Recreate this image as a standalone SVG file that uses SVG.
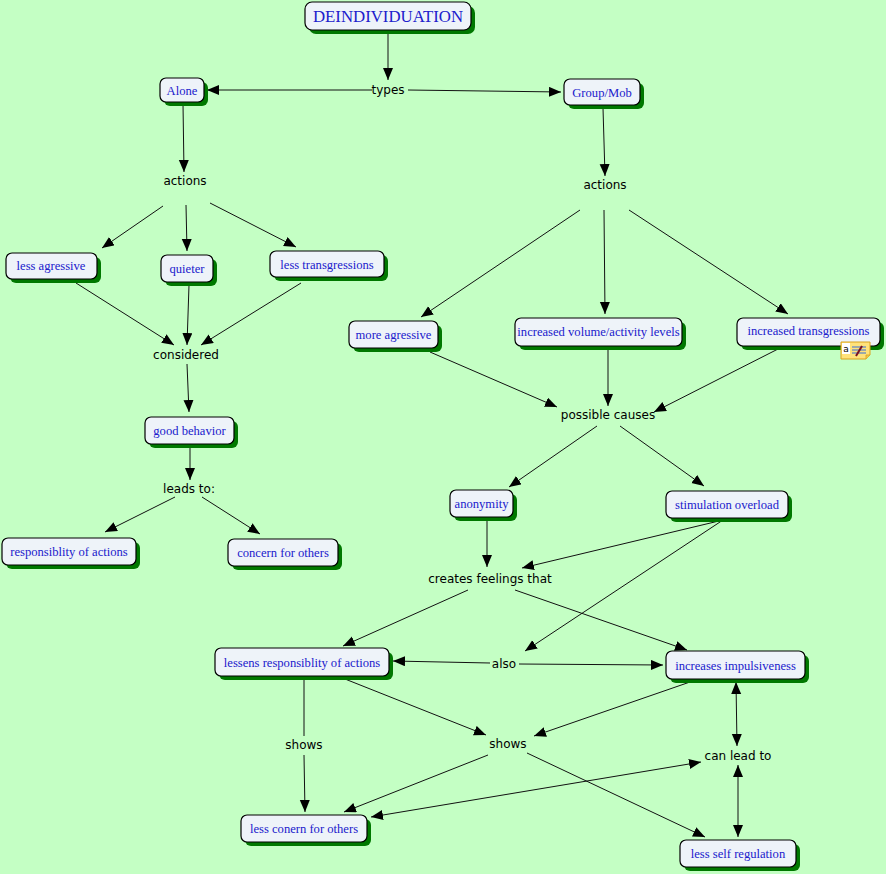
<svg xmlns="http://www.w3.org/2000/svg" width="886" height="874" viewBox="0 0 886 874">
<defs>
<marker id="ah" markerUnits="userSpaceOnUse" markerWidth="13" markerHeight="11" refX="12" refY="5" orient="auto-start-reverse">
<path d="M0,0 L12,5 L0,10 z" fill="#000"/>
</marker>
<style>
.box{fill:#EEF3F9;stroke:#000;stroke-width:1.2}
.sh{fill:#007800}
.nt{font-family:"Liberation Serif","DejaVu Serif",serif;font-size:12.6px;fill:#2020CC;text-anchor:middle}
.lb{font-family:"DejaVu Sans","Liberation Sans",sans-serif;font-size:12px;fill:#000;text-anchor:middle}
.c line,.c path{stroke:#111;stroke-width:1;fill:none}
.a{marker-end:url(#ah)}
.b{marker-start:url(#ah);marker-end:url(#ah)}
</style>
</defs>
<rect width="886" height="874" fill="#C4FFC4"/>

<g class="c" id="connectors">
<line class="a" x1="388" y1="31" x2="388" y2="80"/>
<line class="a" x1="372" y1="90" x2="207" y2="90"/>
<line class="a" x1="408" y1="90" x2="561" y2="92"/>
<line class="a" x1="183" y1="104" x2="184" y2="172"/>
<line class="a" x1="603" y1="108" x2="605" y2="176"/>
<line class="a" x1="163" y1="206" x2="102" y2="248"/>
<line class="a" x1="186" y1="205" x2="187" y2="251"/>
<line class="a" x1="210" y1="203" x2="296" y2="247"/>
<line class="a" x1="76" y1="283" x2="174" y2="345"/>
<line class="a" x1="189" y1="285" x2="187" y2="345"/>
<line class="a" x1="301" y1="283" x2="201" y2="345"/>
<line class="a" x1="187" y1="364" x2="189" y2="412"/>
<line class="a" x1="190" y1="448" x2="190" y2="480"/>
<line class="a" x1="175" y1="497" x2="105" y2="532"/>
<line class="a" x1="202" y1="497" x2="260" y2="534"/>
<line class="a" x1="580" y1="210" x2="421" y2="317"/>
<line class="a" x1="604" y1="210" x2="605" y2="314"/>
<line class="a" x1="629" y1="210" x2="788" y2="314"/>
<line class="a" x1="430" y1="352" x2="557" y2="407"/>
<line class="a" x1="608" y1="350" x2="608" y2="406"/>
<line class="a" x1="780" y1="348" x2="654" y2="412"/>
<line class="a" x1="597" y1="426" x2="509" y2="487"/>
<line class="a" x1="620" y1="426" x2="704" y2="486"/>
<line class="a" x1="487" y1="521" x2="487" y2="567"/>
<line class="a" x1="723" y1="520" x2="522" y2="568"/>
<line class="a" x1="723" y1="520" x2="525" y2="651"/>
<line class="a" x1="468" y1="590" x2="343" y2="646"/>
<line class="a" x1="515" y1="590" x2="687" y2="650"/>
<line class="a" x1="490" y1="663" x2="393" y2="661"/>
<line class="a" x1="519" y1="664" x2="663" y2="665"/>
<line x1="304" y1="680" x2="304" y2="736"/>
<line class="a" x1="304" y1="755" x2="305" y2="812"/>
<line class="a" x1="345" y1="679" x2="486" y2="735"/>
<line class="a" x1="690" y1="682" x2="534" y2="736"/>
<line class="a" x1="488" y1="755" x2="344" y2="812"/>
<line class="a" x1="527" y1="753" x2="705" y2="837"/>
<line class="b" x1="371" y1="817" x2="701" y2="762"/>
<line class="b" x1="736" y1="682" x2="737" y2="746"/>
<line class="b" x1="738" y1="765" x2="738" y2="837"/>
</g>

<g id="n_deind"><rect class="sh" x="309" y="6" width="166" height="28" rx="7"/><rect class="box" x="305" y="2" width="166" height="28" rx="7"/><text class="nt" x="388" y="22" style="font-size:16.8px">DEINDIVIDUATION</text></g>
<g id="n_alone"><rect class="sh" x="164" y="82" width="44" height="24" rx="6"/><rect class="box" x="160" y="78" width="44" height="24" rx="6"/><text class="nt" x="182" y="94.5">Alone</text></g>
<g id="n_group"><rect class="sh" x="568" y="83" width="76" height="26" rx="6"/><rect class="box" x="564" y="79" width="76" height="26" rx="6"/><text class="nt" x="602" y="96.5">Group/Mob</text></g>
<g id="n_lessagr"><rect class="sh" x="10" y="257" width="91" height="26" rx="6"/><rect class="box" x="6" y="253" width="91" height="26" rx="6"/><text class="nt" x="51" y="269.5">less agressive</text></g>
<g id="n_quieter"><rect class="sh" x="165" y="259" width="52" height="27" rx="6"/><rect class="box" x="161" y="255" width="52" height="27" rx="6"/><text class="nt" x="187" y="272.5">quieter</text></g>
<g id="n_lesstrans"><rect class="sh" x="274" y="255" width="114" height="26" rx="6"/><rect class="box" x="270" y="251" width="114" height="26" rx="6"/><text class="nt" x="327" y="268.5">less transgressions</text></g>
<g id="n_good"><rect class="sh" x="149" y="421" width="89" height="27" rx="6"/><rect class="box" x="145" y="417" width="89" height="27" rx="6"/><text class="nt" x="189.5" y="434.5">good behavior</text></g>
<g id="n_resp"><rect class="sh" x="6" y="542" width="134" height="27" rx="6"/><rect class="box" x="2" y="538" width="134" height="27" rx="6"/><text class="nt" x="69" y="555.5">responsiblity of actions</text></g>
<g id="n_concern"><rect class="sh" x="232" y="543" width="110" height="27" rx="6"/><rect class="box" x="228" y="539" width="110" height="27" rx="6"/><text class="nt" x="283" y="556.5">concern for others</text></g>
<g id="n_moreagr"><rect class="sh" x="353" y="325" width="89" height="27" rx="6"/><rect class="box" x="349" y="321" width="89" height="27" rx="6"/><text class="nt" x="393.5" y="338.5">more agressive</text></g>
<g id="n_incvol"><rect class="sh" x="519" y="322" width="167" height="28" rx="6"/><rect class="box" x="515" y="318" width="167" height="28" rx="6"/><text class="nt" x="598.5" y="335.5">increased volume/activity levels</text></g>
<g id="n_inctrans"><rect class="sh" x="741" y="322" width="143" height="28" rx="6"/><rect class="box" x="737" y="318" width="143" height="28" rx="6"/><text class="nt" x="808.5" y="334.5">increased transgressions</text>
<g id="note"><path d="M841,342 h29 v13 l-4,4 h-25 z" fill="#FFE27A" stroke="#D9A21E" stroke-width="1"/><path d="M866,359 v-4 h4" fill="#F2C84B" stroke="#D9A21E" stroke-width="0.8"/><rect x="842" y="343" width="8" height="11" fill="#fff"/><text x="846" y="352" style="font-family:'DejaVu Sans',sans-serif;font-size:9px;fill:#000;text-anchor:middle">a</text><path d="M852,347 h14 M852,350 h14 M852,353 h14" stroke="#3A6FD8" stroke-width="1.2"/><path d="M856,356 l6,-10" stroke="#7A1020" stroke-width="2"/></g></g>
<g id="n_anon"><rect class="sh" x="454" y="494" width="63" height="27" rx="6"/><rect class="box" x="450" y="490" width="63" height="27" rx="6"/><text class="nt" x="481.5" y="507.5">anonymity</text></g>
<g id="n_stim"><rect class="sh" x="670" y="495" width="122" height="27" rx="6"/><rect class="box" x="666" y="491" width="122" height="27" rx="6"/><text class="nt" x="727" y="508.5">stimulation overload</text></g>
<g id="n_lessens"><rect class="sh" x="219" y="652" width="174" height="28" rx="6"/><rect class="box" x="215" y="648" width="174" height="28" rx="6"/><text class="nt" x="302" y="666.5">lessens responsiblity of actions</text></g>
<g id="n_incimp"><rect class="sh" x="670" y="655" width="139" height="28" rx="6"/><rect class="box" x="666" y="651" width="139" height="28" rx="6"/><text class="nt" x="735.5" y="669.5">increases impulsiveness</text></g>
<g id="n_lessconern"><rect class="sh" x="245" y="819" width="126" height="27" rx="6"/><rect class="box" x="241" y="815" width="126" height="27" rx="6"/><text class="nt" x="304" y="832.5">less conern for others</text></g>
<g id="n_lessself"><rect class="sh" x="684" y="844" width="116" height="27" rx="6"/><rect class="box" x="680" y="840" width="116" height="27" rx="6"/><text class="nt" x="738" y="857.5">less self regulation</text></g>

<g id="labels">
<text class="lb" x="388" y="94">types</text>
<text class="lb" x="185" y="185">actions</text>
<text class="lb" x="605" y="189">actions</text>
<text class="lb" x="186" y="359">considered</text>
<text class="lb" x="189" y="493">leads to:</text>
<text class="lb" x="608" y="419">possible causes</text>
<text class="lb" x="490" y="583">creates feelings that</text>
<text class="lb" x="504" y="668">also</text>
<text class="lb" x="304" y="749">shows</text>
<text class="lb" x="508" y="748">shows</text>
<text class="lb" x="738" y="760">can lead to</text>
</g>
</svg>
